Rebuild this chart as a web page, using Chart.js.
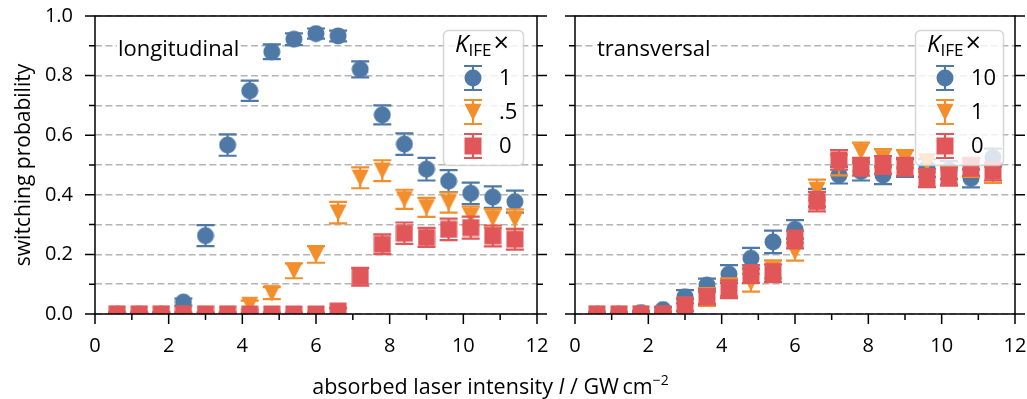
<!DOCTYPE html>
<html><head><meta charset="utf-8">
<script src="https://cdn.jsdelivr.net/npm/chart.js@4.4.1/dist/chart.umd.min.js"></script>
<style>
html,body{margin:0;padding:0;background:#fff;width:1027px;height:399px;overflow:hidden;}
#wrapL{position:absolute;left:0;top:0;width:552px;height:399px;}
#wrapR{position:absolute;left:556px;top:0;width:471px;height:399px;}
#xtitle{position:absolute;left:0;width:981px;top:372px;text-align:center;font-family:"Open Sans","Noto Sans",sans-serif;font-size:21.5px;line-height:28px;color:#000;white-space:nowrap;}
#xtitle sup{font-size:14px;line-height:0;vertical-align:9px;}
</style></head><body>
<div id="wrapL"><canvas id="cL" width="552" height="399"></canvas></div>
<div id="wrapR"><canvas id="cR" width="471" height="399"></canvas></div>
<div id="xtitle">absorbed laser intensity <i>I</i> / GW&#8201;cm<sup>−2</sup></div>
<script>
// ---------- data ----------
const intensity = [0.6, 1.2, 1.8, 2.4, 3.0, 3.6, 4.2, 4.8, 5.4, 6.0, 6.6, 7.2, 7.8, 8.4, 9.0, 9.6, 10.2, 10.8, 11.4];

// longitudinal panel
const lonK1    = [0, 0, 0, 0.04, 0.263, 0.567, 0.749, 0.880, 0.922, 0.941, 0.933, 0.821, 0.668, 0.570, 0.486, 0.446, 0.405, 0.392, 0.377];
const lonK1Err = [0.005, 0.005, 0.005, 0.012, 0.035, 0.036, 0.034, 0.025, 0.020, 0.017, 0.018, 0.027, 0.032, 0.036, 0.038, 0.037, 0.036, 0.036, 0.037];
const lonK05    = [0, 0, 0, 0, 0, 0, 0.03, 0.07, 0.145, 0.200, 0.340, 0.457, 0.481, 0.385, 0.358, 0.374, 0.329, 0.321, 0.318];
const lonK05Err = [0.005, 0.005, 0.005, 0.005, 0.005, 0.005, 0.015, 0.020, 0.025, 0.028, 0.036, 0.035, 0.035, 0.032, 0.032, 0.034, 0.031, 0.031, 0.033];
const lonK0    = [0, 0, 0, 0, 0, 0, 0, 0, 0, 0, 0.01, 0.125, 0.234, 0.271, 0.257, 0.284, 0.290, 0.262, 0.251];
const lonK0Err = [0.005, 0.005, 0.005, 0.005, 0.005, 0.005, 0.005, 0.005, 0.005, 0.005, 0.010, 0.030, 0.033, 0.036, 0.032, 0.036, 0.037, 0.035, 0.035];

// transversal panel
const traK10    = [0, 0, 0.005, 0.015, 0.058, 0.097, 0.134, 0.187, 0.242, 0.284, 0.390, 0.466, 0.478, 0.466, 0.490, 0.490, 0.483, 0.455, 0.525];
const traK10Err = [0.005, 0.005, 0.005, 0.008, 0.022, 0.022, 0.030, 0.035, 0.038, 0.031, 0.030, 0.028, 0.030, 0.030, 0.030, 0.030, 0.030, 0.030, 0.030];
const traK1    = [0, 0, 0, 0, 0.03, 0.057, 0.09, 0.105, 0.150, 0.209, 0.416, 0.500, 0.545, 0.523, 0.520, 0.506, 0.465, 0.490, 0.470];
const traK1Err = [0.005, 0.005, 0.005, 0.005, 0.020, 0.030, 0.030, 0.030, 0.030, 0.030, 0.035, 0.035, 0.030, 0.030, 0.030, 0.030, 0.030, 0.030, 0.030];
const traK0    = [0, 0, 0, 0, 0.030, 0.058, 0.083, 0.134, 0.137, 0.250, 0.377, 0.517, 0.494, 0.500, 0.494, 0.456, 0.461, 0.494, 0.478];
const traK0Err = [0.005, 0.005, 0.005, 0.005, 0.020, 0.025, 0.030, 0.030, 0.030, 0.030, 0.033, 0.033, 0.030, 0.030, 0.030, 0.030, 0.030, 0.030, 0.030];

const lonLegendLabels = ['1', '.5', '0'];
const traLegendLabels = ['10', '1', '0'];
const panelTitles = ['longitudinal', 'transversal'];
const yAxisTitle = 'switching probability';
const legendTitleSymbol = 'K';
const legendTitleSub = 'IFE';
const legendTitleSuffix = '×';

// ---------- styles ----------
const FONT = '"Open Sans", "Noto Sans", sans-serif';
const C_BLUE = '#4e79a7', C_ORANGE = '#f28e2b', C_RED = '#e15759';

function marker(shape, color) {
  const c = document.createElement('canvas');
  c.width = 18; c.height = 18;
  const g = c.getContext('2d');
  g.fillStyle = color;
  g.beginPath();
  if (shape === 'circle') { g.arc(9, 9, 8.5, 0, Math.PI * 2); }
  else if (shape === 'tri') { g.moveTo(0.5, 0.8); g.lineTo(17.5, 0.8); g.lineTo(9, 17.5); g.closePath(); }
  else { g.rect(0.5, 0.5, 17, 17); }
  g.fill();
  return c;
}
const M_CIRCLE = marker('circle', C_BLUE);
const M_TRI = marker('tri', C_ORANGE);
const M_SQ = marker('sq', C_RED);

function series(vals, errs, img, color, order) {
  return {
    data: intensity.map((x, i) => ({ x: x, y: vals[i] })),
    errors: errs,
    errColor: color,
    pointStyle: img,
    pointRadius: 9,
    pointHoverRadius: 9,
    backgroundColor: color,
    borderColor: color,
    showLine: false,
    order: order
  };
}

function roundRectPath(ctx, x, y, w, h, r) {
  ctx.beginPath();
  ctx.moveTo(x + r, y);
  ctx.lineTo(x + w - r, y); ctx.arcTo(x + w, y, x + w, y + r, r);
  ctx.lineTo(x + w, y + h - r); ctx.arcTo(x + w, y + h, x + w - r, y + h, r);
  ctx.lineTo(x + r, y + h); ctx.arcTo(x, y + h, x, y + h - r, r);
  ctx.lineTo(x, y + r); ctx.arcTo(x, y, x + r, y, r);
  ctx.closePath();
}

const decor = {
  id: 'decor',
  beforeDatasetDraw(chart, args, opts) {
    const ds = chart.data.datasets[args.index];
    const xs = chart.scales.x, ys = chart.scales.y, ca = chart.chartArea, ctx = chart.ctx;
    ctx.save();
    ctx.beginPath(); ctx.rect(ca.left, ca.top, ca.right - ca.left, ca.bottom - ca.top); ctx.clip();
    ctx.strokeStyle = ds.errColor; ctx.lineWidth = 2.2;
    ds.data.forEach((p, i) => {
      const e = ds.errors[i];
      const px = xs.getPixelForValue(p.x);
      const y1 = ys.getPixelForValue(p.y - e), y2 = ys.getPixelForValue(p.y + e);
      ctx.beginPath();
      ctx.moveTo(px, y1); ctx.lineTo(px, y2);
      ctx.moveTo(px - 9, y1); ctx.lineTo(px + 9, y1);
      ctx.moveTo(px - 9, y2); ctx.lineTo(px + 9, y2);
      ctx.stroke();
    });
    ctx.restore();
  },
  afterDatasetsDraw(chart, args, opts) {
    const ctx = chart.ctx, ca = chart.chartArea, xs = chart.scales.x, ys = chart.scales.y;
    ctx.save();
    // panel label with white bbox
    ctx.font = '22px ' + FONT;
    ctx.textBaseline = 'alphabetic'; ctx.textAlign = 'left';
    const tm = ctx.measureText(opts.panel);
    ctx.fillStyle = '#fff';
    ctx.fillRect(opts.panelX - 1, opts.panelY - tm.actualBoundingBoxAscent - 1, tm.width + 2, tm.actualBoundingBoxAscent + tm.actualBoundingBoxDescent + 2);
    ctx.fillStyle = '#000';
    ctx.fillText(opts.panel, opts.panelX, opts.panelY);

    // spines
    ctx.strokeStyle = '#000'; ctx.lineWidth = 1.5;
    ctx.strokeRect(ca.left, ca.top, ca.right - ca.left, ca.bottom - ca.top);
    // y ticks both sides, x ticks bottom
    ctx.beginPath();
    ys.ticks.forEach(t => {
      const py = ys.getPixelForValue(t.value);
      const major = Math.round(t.value * 10) % 2 === 0;
      const len = major ? 10 : 6;
      ctx.moveTo(ca.left, py); ctx.lineTo(ca.left - len, py);
      ctx.moveTo(ca.right, py); ctx.lineTo(ca.right + len, py);
    });
    xs.ticks.forEach(t => {
      const px = xs.getPixelForValue(t.value);
      const major = Math.round(t.value) % 2 === 0;
      const len = major ? 10 : 6;
      ctx.moveTo(px, ca.bottom); ctx.lineTo(px, ca.bottom + len);
    });
    ctx.stroke();

    // legend
    const L = opts.legend;
    roundRectPath(ctx, L.left + 0.5, L.top + 0.5, L.width, L.height, 5);
    ctx.fillStyle = 'rgba(255,255,255,0.8)'; ctx.fill();
    ctx.strokeStyle = 'rgba(204,204,204,0.8)'; ctx.lineWidth = 1.5; ctx.stroke();
    ctx.fillStyle = '#000'; ctx.textAlign = 'left'; ctx.textBaseline = 'alphabetic';
    let tx = L.left + 12;
    ctx.font = 'italic 24px ' + FONT; ctx.fillText(legendTitleSymbol, tx, L.top + 22);
    tx += ctx.measureText(legendTitleSymbol).width;
    ctx.font = '17px ' + FONT; ctx.fillText(legendTitleSub, tx, L.top + 26);
    tx += ctx.measureText(legendTitleSub).width + 2;
    ctx.font = '27px ' + FONT; ctx.fillText(legendTitleSuffix, tx, L.top + 22);

    const ds = chart.data.datasets;
    ctx.textBaseline = 'middle';
    ctx.font = '22px ' + FONT;
    L.labels.forEach((lab, i) => {
      const y = L.top + 48 + i * 34;
      const mx = L.left + 30;
      const d = ds[i];
      ctx.strokeStyle = d.errColor; ctx.lineWidth = 2.2;
      ctx.beginPath();
      ctx.moveTo(mx, y - 12); ctx.lineTo(mx, y + 12);
      ctx.moveTo(mx - 9, y - 12); ctx.lineTo(mx + 9, y - 12);
      ctx.moveTo(mx - 9, y + 12); ctx.lineTo(mx + 9, y + 12);
      ctx.stroke();
      ctx.drawImage(d.pointStyle, mx - 9, y - 9);
      ctx.fillStyle = '#000';
      ctx.fillText(lab, L.left + 56, y + 1);
    });
    ctx.restore();
  }
};

function makeOptions(isLeft, yWidth, padRight, panel, panelX, legend) {
  return {
    responsive: false,
    animation: false,
    devicePixelRatio: 1,
    layout: { padding: { top: 16, right: padRight, bottom: 0, left: 0 } },
    plugins: {
      legend: { display: false },
      tooltip: { enabled: false },
      decor: { panel: panel, panelX: panelX, panelY: 56, legend: legend }
    },
    scales: {
      x: {
        type: 'linear', min: 0, max: 12,
        ticks: {
          stepSize: 1, autoSkip: false, maxRotation: 0, padding: 20,
          color: '#000', font: { family: FONT, size: 20 },
          callback: v => (Math.round(v) % 2 === 0 ? String(v) : '')
        },
        grid: { display: false, drawTicks: false },
        border: { display: false },
        afterFit: s => { s.height = 85; s.paddingLeft = 0; s.paddingRight = 0; }
      },
      y: {
        type: 'linear', min: 0, max: 1,
        ticks: {
          stepSize: 0.1, autoSkip: false, padding: 22, display: isLeft,
          color: '#000', font: { family: FONT, size: 20 },
          callback: v => (Math.round(v * 10) % 2 === 0 ? v.toFixed(1) : '')
        },
        grid: { color: '#b4b4b4', lineWidth: 1.6, drawTicks: false },
        border: { display: false, dash: [7, 3.4] },
        title: {
          display: isLeft, text: yAxisTitle, color: '#000',
          font: { family: FONT, size: 21 }, padding: { top: 11, bottom: 0 }
        },
        afterFit: s => { s.width = yWidth; s.paddingTop = 0; s.paddingBottom = 0; }
      }
    }
  };
}

new Chart(document.getElementById('cL'), {
  type: 'scatter',
  data: { datasets: [
    series(lonK1, lonK1Err, M_CIRCLE, C_BLUE, 3),
    series(lonK05, lonK05Err, M_TRI, C_ORANGE, 2),
    series(lonK0, lonK0Err, M_SQ, C_RED, 1)
  ] },
  options: makeOptions(true, 95, 15, panelTitles[0], 118,
    { left: 443, top: 30, width: 80, height: 135, labels: lonLegendLabels }),
  plugins: [decor]
});

new Chart(document.getElementById('cR'), {
  type: 'scatter',
  data: { datasets: [
    series(traK10, traK10Err, M_CIRCLE, C_BLUE, 3),
    series(traK1, traK1Err, M_TRI, C_ORANGE, 2),
    series(traK0, traK0Err, M_SQ, C_RED, 1)
  ] },
  options: makeOptions(false, 19, 12, panelTitles[1], 41,
    { left: 359, top: 30, width: 88, height: 135, labels: traLegendLabels }),
  plugins: [decor]
});
</script>
</body></html>
